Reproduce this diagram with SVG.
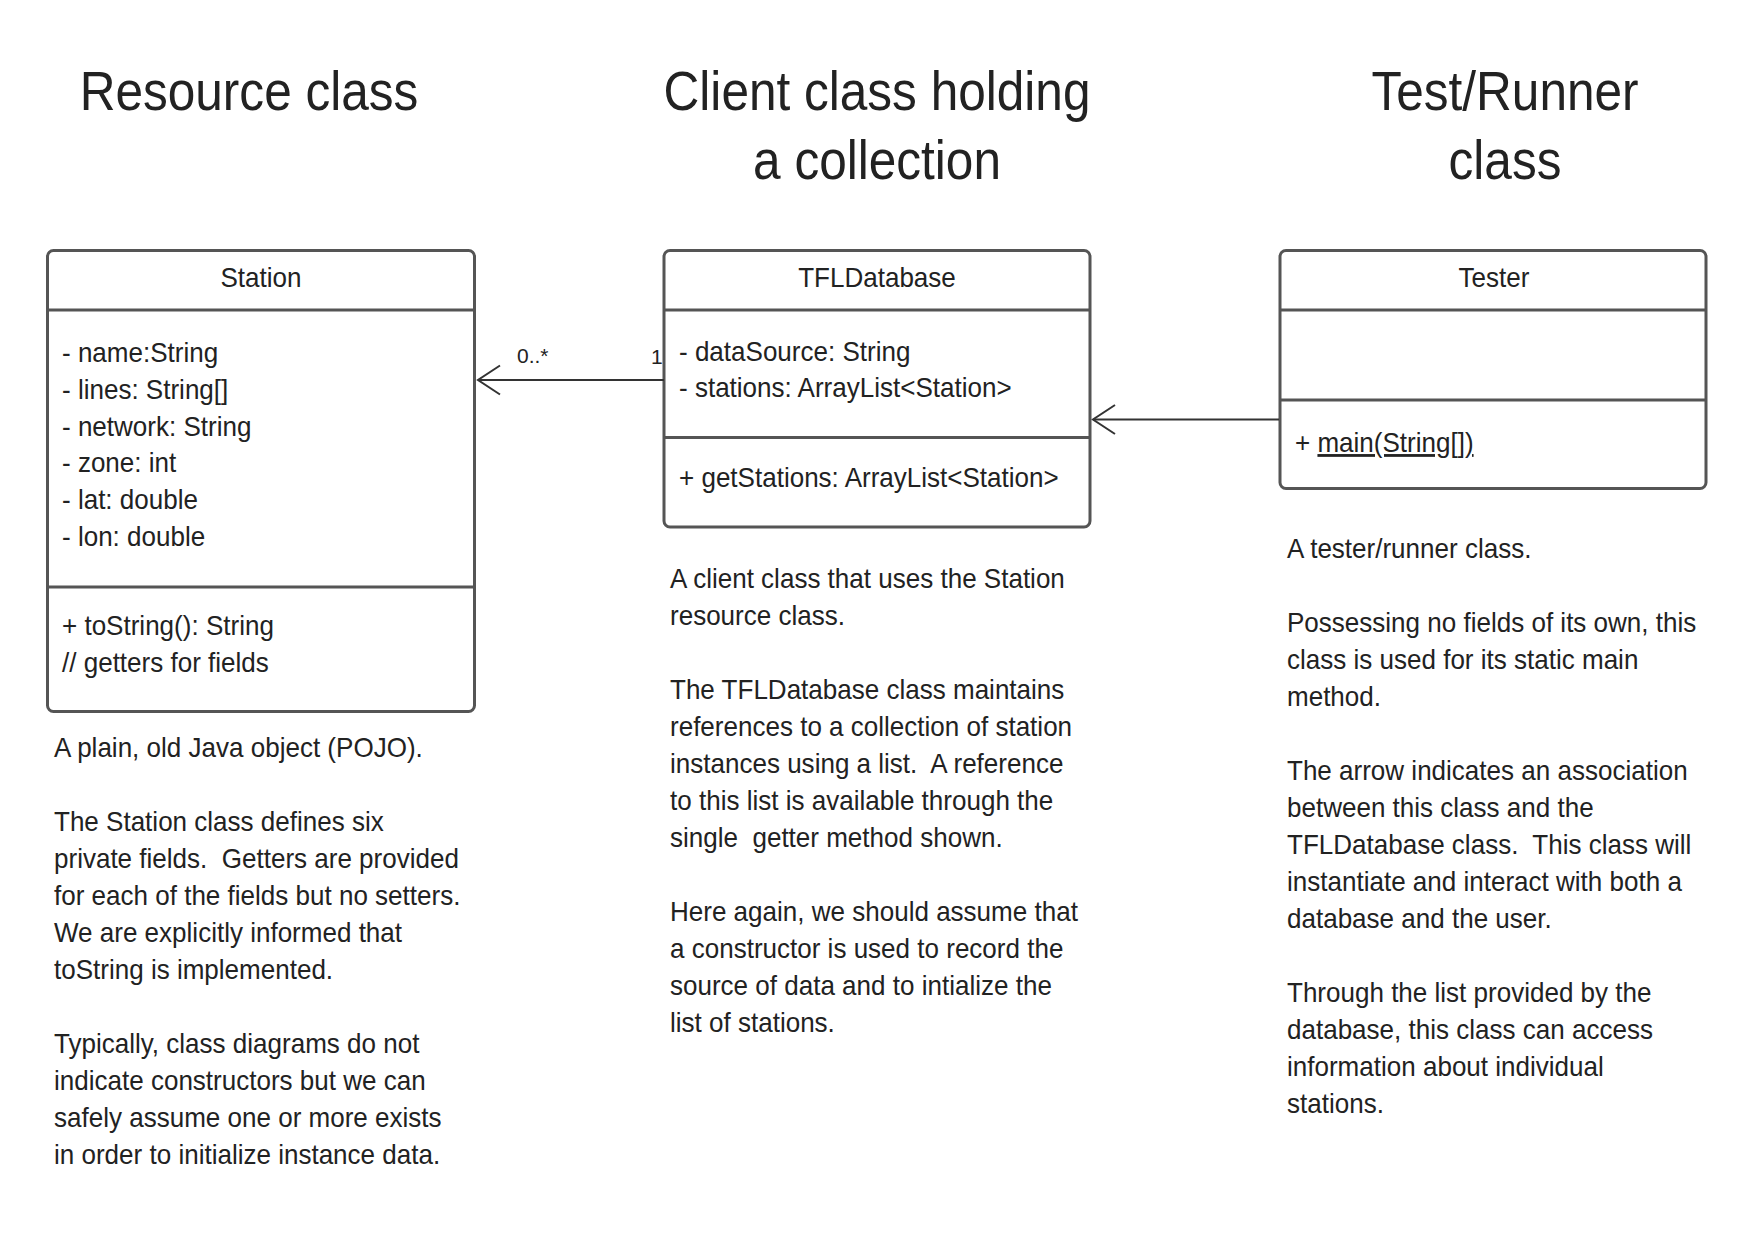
<svg xmlns="http://www.w3.org/2000/svg" width="1754" height="1240" viewBox="0 0 1754 1240">
  <defs>
    <style>
      .t { font-family: "Liberation Sans", Arial, sans-serif; font-size: 28px; fill: #222; }
      .pre { white-space: pre; }
      .title { font-size: 56px; }
      .lbl { font-family: "Liberation Sans", Arial, sans-serif; font-size: 21px; fill: #222; }
      .box { fill: #fff; stroke: #555; stroke-width: 3; }
      .div { stroke: #555; stroke-width: 3; fill: none; }
      .conn { stroke: #333; stroke-width: 2; fill: none; }
    </style>
    <marker id="openArrow" markerUnits="userSpaceOnUse" markerWidth="40" markerHeight="40" viewBox="-30 -20 40 40" refX="0" refY="0" orient="auto" overflow="visible">
      <path d="M-22,-14.5 L0,0 L-22,14.5" fill="none" stroke="#333" stroke-width="2"/>
    </marker>
  </defs>
  <rect x="0" y="0" width="1754" height="1240" fill="#fff"/>

  <g id="titles">
    <text class="t title" text-anchor="middle" transform="translate(249 0) scale(0.885 1)" x="0" y="110">Resource class</text>
    <text class="t title" text-anchor="middle" transform="translate(877 0) scale(0.885 1)"><tspan x="0" y="110">Client class holding</tspan><tspan x="0" y="179">a collection</tspan></text>
    <text class="t title" text-anchor="middle" transform="translate(1505 0) scale(0.885 1)"><tspan x="0" y="110">Test/Runner</tspan><tspan x="0" y="179">class</tspan></text>
  </g>

  <g id="station">
    <rect class="box" x="47.5" y="250.5" width="427" height="461" rx="6"/>
    <line class="div" x1="47.5" y1="310" x2="474.5" y2="310"/>
    <line class="div" x1="47.5" y1="587" x2="474.5" y2="587"/>
    <text class="t" text-anchor="middle" transform="translate(261 0) scale(0.93 1)" x="0" y="287">Station</text>
    <text class="t" transform="translate(62 0) scale(0.93 1)"><tspan x="0" y="362">- name:String</tspan><tspan x="0" y="398.8">- lines: String[]</tspan><tspan x="0" y="435.6">- network: String</tspan><tspan x="0" y="472.4">- zone: int</tspan><tspan x="0" y="509.2">- lat: double</tspan><tspan x="0" y="546">- lon: double</tspan></text>
    <text class="t" transform="translate(62 0) scale(0.93 1)"><tspan x="0" y="635">+ toString(): String</tspan><tspan x="0" y="672">// getters for fields</tspan></text>
  </g>

  <g id="tfldatabase">
    <rect class="box" x="664" y="250.5" width="426" height="276.5" rx="6"/>
    <line class="div" x1="664" y1="310" x2="1090" y2="310"/>
    <line class="div" x1="664" y1="437.5" x2="1090" y2="437.5"/>
    <text class="t" text-anchor="middle" transform="translate(877 0) scale(0.93 1)" x="0" y="287">TFLDatabase</text>
    <text class="t" transform="translate(679 0) scale(0.93 1)"><tspan x="0" y="361">- dataSource: String</tspan><tspan x="0" y="397.5">- stations: ArrayList&lt;Station&gt;</tspan></text>
    <text class="t" transform="translate(679 0) scale(0.93 1)" x="0" y="487">+ getStations: ArrayList&lt;Station&gt;</text>
  </g>

  <g id="tester">
    <rect class="box" x="1280" y="250.5" width="426" height="238" rx="6"/>
    <line class="div" x1="1280" y1="310" x2="1706" y2="310"/>
    <line class="div" x1="1280" y1="400" x2="1706" y2="400"/>
    <text class="t" text-anchor="middle" transform="translate(1494 0) scale(0.93 1)" x="0" y="287">Tester</text>
    <text class="t" transform="translate(1295 0) scale(0.93 1)" x="0" y="452">+ <tspan text-decoration="underline">main(String[])</tspan></text>
  </g>

  <g id="connectors">
    <line class="conn" x1="664" y1="380" x2="478" y2="380" marker-end="url(#openArrow)"/>
    <text class="lbl" x="517" y="363">0..*</text>
    <text class="lbl" x="651" y="364">1</text>
    <line class="conn" x1="1279" y1="419.5" x2="1093" y2="419.5" marker-end="url(#openArrow)"/>
  </g>

  <g id="note-station">
    <text class="t pre" transform="translate(54 0) scale(0.93 1)"><tspan x="0" y="757">A plain, old Java object (POJO).</tspan><tspan x="0" y="831">The Station class defines six</tspan><tspan x="0" y="868">private fields.  Getters are provided</tspan><tspan x="0" y="905">for each of the fields but no setters.</tspan><tspan x="0" y="942">We are explicitly informed that</tspan><tspan x="0" y="979">toString is implemented.</tspan><tspan x="0" y="1053">Typically, class diagrams do not</tspan><tspan x="0" y="1090">indicate constructors but we can</tspan><tspan x="0" y="1127">safely assume one or more exists</tspan><tspan x="0" y="1164">in order to initialize instance data.</tspan></text>
  </g>

  <g id="note-tfldatabase">
    <text class="t pre" transform="translate(670 0) scale(0.93 1)"><tspan x="0" y="588">A client class that uses the Station</tspan><tspan x="0" y="625">resource class.</tspan><tspan x="0" y="699">The TFLDatabase class maintains</tspan><tspan x="0" y="736">references to a collection of station</tspan><tspan x="0" y="773">instances using a list.  A reference</tspan><tspan x="0" y="810">to this list is available through the</tspan><tspan x="0" y="847">single  getter method shown.</tspan><tspan x="0" y="921">Here again, we should assume that</tspan><tspan x="0" y="958">a constructor is used to record the</tspan><tspan x="0" y="995">source of data and to intialize the</tspan><tspan x="0" y="1032">list of stations.</tspan></text>
  </g>

  <g id="note-tester">
    <text class="t pre" transform="translate(1287 0) scale(0.93 1)"><tspan x="0" y="558">A tester/runner class.</tspan><tspan x="0" y="632">Possessing no fields of its own, this</tspan><tspan x="0" y="669">class is used for its static main</tspan><tspan x="0" y="706">method.</tspan><tspan x="0" y="780">The arrow indicates an association</tspan><tspan x="0" y="817">between this class and the</tspan><tspan x="0" y="854">TFLDatabase class.  This class will</tspan><tspan x="0" y="891">instantiate and interact with both a</tspan><tspan x="0" y="928">database and the user.</tspan><tspan x="0" y="1002">Through the list provided by the</tspan><tspan x="0" y="1039">database, this class can access</tspan><tspan x="0" y="1076">information about individual</tspan><tspan x="0" y="1113">stations.</tspan></text>
  </g>
</svg>
